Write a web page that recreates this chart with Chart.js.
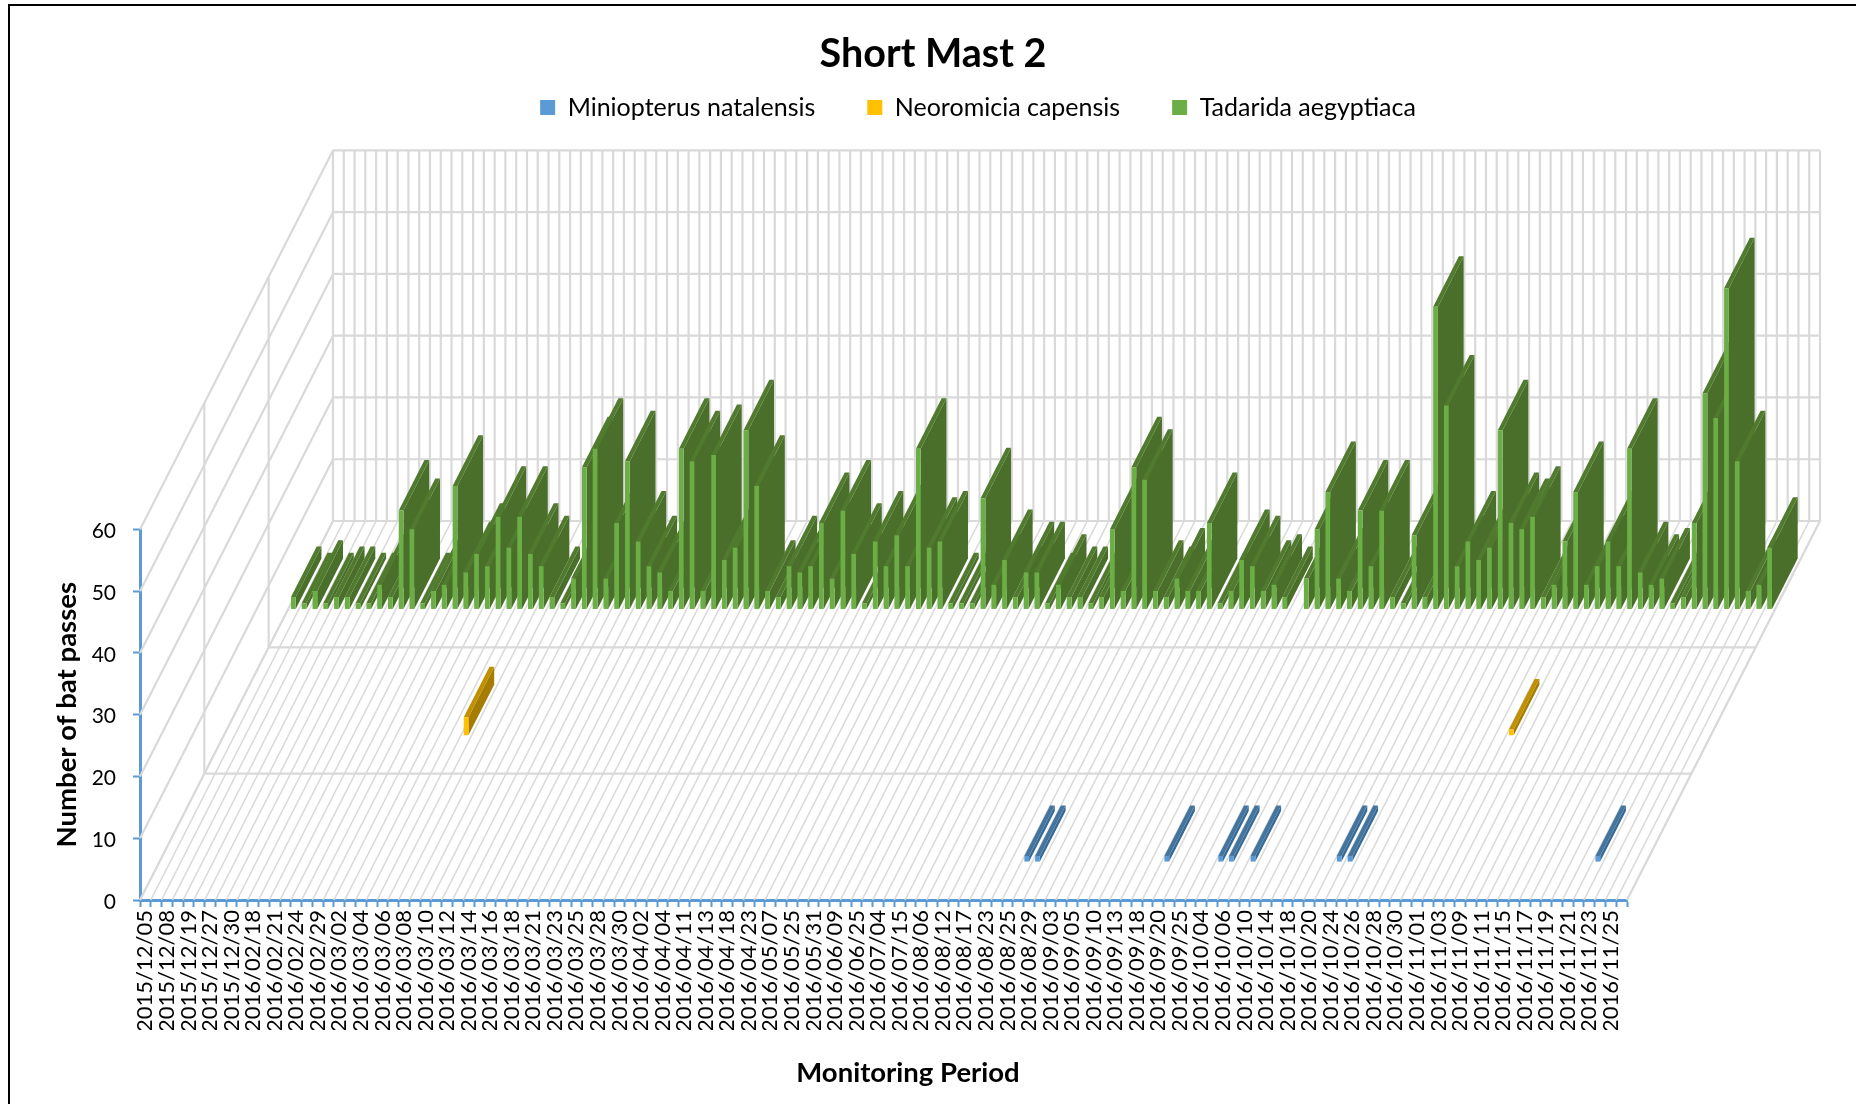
<!DOCTYPE html>
<html>
<head>
<meta charset="utf-8">
<title>Short Mast 2</title>
<script src="https://cdn.jsdelivr.net/npm/chart.js@4/dist/chart.umd.min.js"></script>
<style>
  html, body { margin: 0; padding: 0; background: #fff; }
  #frame { position: absolute; left: 8px; top: 4px; right: 0; bottom: 0; border-left: 2px solid #000; border-top: 2px solid #000; pointer-events: none; }
  canvas { position: absolute; left: 0; top: 0; }
</style>
</head>
<body>
<canvas id="batChart" width="1856" height="1104"></canvas>
<div id="frame"></div>
<script>
// every second category carries a label in the original axis
const tickLabels = [
  "2015/12/05","2015/12/08","2015/12/19","2015/12/27","2015/12/30","2016/02/18","2016/02/21","2016/02/24","2016/02/29",
  "2016/03/02","2016/03/04","2016/03/06","2016/03/08","2016/03/10","2016/03/12","2016/03/14","2016/03/16","2016/03/18",
  "2016/03/21","2016/03/23","2016/03/25","2016/03/28","2016/03/30","2016/04/02","2016/04/04","2016/04/11","2016/04/13",
  "2016/04/18","2016/04/23","2016/05/07","2016/05/25","2016/05/31","2016/06/09","2016/06/25","2016/07/04","2016/07/15",
  "2016/08/06","2016/08/12","2016/08/17","2016/08/23","2016/08/25","2016/08/29","2016/09/03","2016/09/05","2016/09/10",
  "2016/09/13","2016/09/18","2016/09/20","2016/09/25","2016/10/04","2016/10/06","2016/10/10","2016/10/14","2016/10/18",
  "2016/10/20","2016/10/24","2016/10/26","2016/10/28","2016/10/30","2016/11/01","2016/11/03","2016/11/09","2016/11/11",
  "2016/11/15","2016/11/17","2016/11/19","2016/11/21","2016/11/23","2016/11/25"
];

const tadarida = [
  2,1,3,1,2,2,1,1,4,2,16,13,1,3,4,20,6,9,7,15,10,15,9,7,2,1,5,23,26,5,
  14,24,11,7,6,3,26,24,3,25,8,10,29,20,3,2,7,6,7,14,5,16,9,1,11,7,12,7,26,10,
  11,1,1,1,18,4,8,2,6,6,1,4,2,2,1,2,13,3,23,21,3,2,5,3,3,14,1,3,8,7,
  3,4,2,0,5,13,19,5,3,16,7,16,2,1,12,2,49,33,7,11,8,10,29,14,13,15,2,4,11,19,
  4,7,11,7,26,6,4,5,1,2,14,35,31,52,24,3,4,10
];
const neoromicia = [
  0,0,0,0,0,0,0,0,0,0,0,0,0,0,0,0,0,0,0,0,0,0,3,0,0,0,0,0,0,0,
  0,0,0,0,0,0,0,0,0,0,0,0,0,0,0,0,0,0,0,0,0,0,0,0,0,0,0,0,0,0,
  0,0,0,0,0,0,0,0,0,0,0,0,0,0,0,0,0,0,0,0,0,0,0,0,0,0,0,0,0,0,
  0,0,0,0,0,0,0,0,0,0,0,0,0,0,0,0,0,0,0,0,0,0,0,0,0,0,0,0,0,1,
  0,0,0,0,0,0,0,0,0,0,0,0,0,0,0,0,0,0
];
const miniopterus = [
  0,0,0,0,0,0,0,0,0,0,0,0,0,0,0,0,0,0,0,0,0,0,0,0,0,0,0,0,0,0,
  0,0,0,0,0,0,0,0,0,0,0,0,0,0,0,0,0,0,0,0,0,0,0,0,0,0,0,0,0,0,
  0,0,0,0,0,0,0,0,0,0,0,0,0,0,0,0,0,0,0,0,1,1,0,0,0,0,0,0,0,0,
  0,0,0,1,0,0,0,0,1,1,0,1,0,0,0,0,0,0,0,1,1,0,0,0,0,0,0,0,0,0,
  0,0,0,0,0,0,0,0,0,0,0,0,0,1,0,0,0,0
];
const categories = tickLabels.flatMap(label => [label, ""]);

const chartTitle = "Short Mast 2";
const yTitle = "Number of bat passes";
const xTitle = "Monitoring Period";

const wallColor = "#d9d9d9";
const axisColor = "#5b9bd5";
const depth = { x: 193, y: -379 };   // front floor edge to back wall, in px
const rows = 3;

// where a series row sits on the depth axis, 0 = front, 1 = back
function rowFront(row) { return (row + 0.3) / rows; }
function rowBack(row) { return (row + 0.7) / rows; }

function line(ctx, x1, y1, x2, y2) {
  ctx.beginPath();
  ctx.moveTo(x1, y1);
  ctx.lineTo(x2, y2);
  ctx.stroke();
}

function poly(ctx, color, pts) {
  ctx.fillStyle = color;
  ctx.beginPath();
  pts.forEach((p, i) => i ? ctx.lineTo(p[0], p[1]) : ctx.moveTo(p[0], p[1]));
  ctx.closePath();
  ctx.fill();
}

// floor and walls behind the bars
const walls = {
  id: "walls",
  beforeDatasetsDraw(chart) {
    const ctx = chart.ctx;
    const xs = chart.scales.x, ys = chart.scales.y;
    const band = (xs.right - xs.left) / categories.length;
    const floorY = ys.getPixelForValue(0);
    const topY = ys.getPixelForValue(60);
    ctx.save();
    ctx.strokeStyle = wallColor;

    ctx.lineWidth = 1.6;
    for (let i = 0; i <= categories.length; i++) {
      const x = xs.left + i * band;
      line(ctx, x, floorY, x + depth.x, floorY + depth.y);
    }

    ctx.lineWidth = 2.2;
    for (let i = 0; i <= categories.length; i++) {
      const x = xs.left + i * band + depth.x;
      line(ctx, x, floorY + depth.y, x, topY + depth.y);
    }
    ys.ticks.forEach(t => {
      const y = ys.getPixelForValue(t.value);
      line(ctx, xs.left, y, xs.left + depth.x, y + depth.y);
      line(ctx, xs.left + depth.x, y + depth.y, xs.right + depth.x, y + depth.y);
    });
    for (let r = 1; r < rows; r++) {
      const dx = depth.x * r / rows, dy = depth.y * r / rows;
      line(ctx, xs.left + dx, floorY + dy, xs.right + dx, floorY + dy);
      line(ctx, xs.left + dx, floorY + dy, xs.left + dx, topY + dy);
    }
    line(ctx, xs.right, floorY, xs.right + depth.x, floorY + depth.y);
    ctx.restore();
  }
};

// side and top faces, then shift the library's bar (the front face) into its row
const box3d = {
  id: "box3d",
  beforeDatasetDraw(chart, args) {
    const ctx = chart.ctx;
    const ds = chart.data.datasets[args.index];
    const row = args.index;
    const fx = depth.x * rowFront(row), fy = depth.y * rowFront(row);
    const bx = depth.x * (rowBack(row) - rowFront(row)), by = depth.y * (rowBack(row) - rowFront(row));
    ctx.save();
    ctx.translate(fx, fy);
    args.meta.data.forEach((bar, i) => {
      if (!ds.data[i]) return;
      const p = bar.getProps(["x", "y", "base", "width"], true);
      const l = p.x - p.width / 2, r = p.x + p.width / 2;
      poly(ctx, ds.sideColor, [[r, p.y], [r, p.base], [r + bx, p.base + by], [r + bx, p.y + by]]);
      poly(ctx, ds.topColor, [[l, p.y], [r, p.y], [r + bx, p.y + by], [l + bx, p.y + by]]);
    });
  },
  afterDatasetDraw(chart) {
    chart.ctx.restore();
  }
};

// legend sits right under the title and off centre in the original
const placeBoxes = {
  id: "placeBoxes",
  afterLayout(chart) {
    const t = chart.titleBlock, l = chart.legend;
    t.left = 0; t.right = 1866;
    const dy = 43 - l.top;
    l.top += dy; l.bottom += dy;
    l.left = 0; l.right = 1956;
  },
  afterDraw(chart) {
    const ctx = chart.ctx;
    ctx.save();
    ctx.fillStyle = "#000";
    ctx.font = "bold 27.5px Lato";
    ctx.textAlign = "center";
    ctx.textBaseline = "middle";
    ctx.fillText(xTitle, 908, 1073);
    ctx.restore();
  }
};

function series(label, data, color, sideColor, topColor) {
  return {
    label, data, sideColor, topColor,
    backgroundColor: color,
    borderWidth: 0,
    grouped: false,
    categoryPercentage: 1,
    barPercentage: 0.44,
    clip: false
  };
}

new Chart(document.getElementById("batChart"), {
  type: "bar",
  data: {
    labels: categories,
    datasets: [
      series("Miniopterus natalensis", miniopterus, "#5b9bd5", "#376b96", "#44759f"),
      series("Neoromicia capensis", neoromicia, "#ffc000", "#a67c00", "#bf9000"),
      series("Tadarida aegyptiaca", tadarida, "#6aae45", "#4a6f2b", "#507a2d")
    ]
  },
  plugins: [walls, box3d, placeBoxes],
  options: {
    responsive: false,
    animation: false,
    devicePixelRatio: 1,
    layout: { padding: { left: 40, right: 229, top: 0, bottom: 74 } },
    plugins: {
      tooltip: { enabled: false },
      title: {
        display: true,
        text: chartTitle,
        color: "#000",
        font: { family: "Lato", size: 39.5, weight: "bold" },
        padding: { top: 31, bottom: 364 }
      },
      legend: {
        display: true,
        position: "top",
        labels: {
          color: "#000",
          font: { family: "Lato", size: 25 },
          boxWidth: 15,
          boxHeight: 15,
          padding: 52
        }
      }
    },
    scales: {
      x: {
        offset: true,
        afterFit(scale) { scale.height = 130; },
        grid: { drawOnChartArea: false, drawTicks: true, tickLength: 7, tickColor: axisColor, tickWidth: 2, offset: true },
        border: { color: axisColor, width: 3 },
        ticks: {
          autoSkip: false,
          minRotation: 90,
          maxRotation: 90,
          padding: 3,
          color: "#000",
          font: { family: "Lato", size: 22 }
        }
      },
      y: {
        min: 0,
        max: 60,
        afterFit(scale) { scale.width = 100; },
        grid: { drawOnChartArea: false, drawTicks: true, tickLength: 7, tickColor: axisColor, tickWidth: 2 },
        border: { color: axisColor, width: 3 },
        title: {
          display: true,
          text: yTitle,
          color: "#000",
          font: { family: "Lato", size: 27.5, weight: "bold" },
          padding: { top: 11, bottom: 0 }
        },
        ticks: {
          stepSize: 10,
          padding: 17,
          labelOffset: 2,
          color: "#000",
          font: { family: "Lato", size: 21 }
        }
      }
    }
  }
});
</script>
</body>
</html>
